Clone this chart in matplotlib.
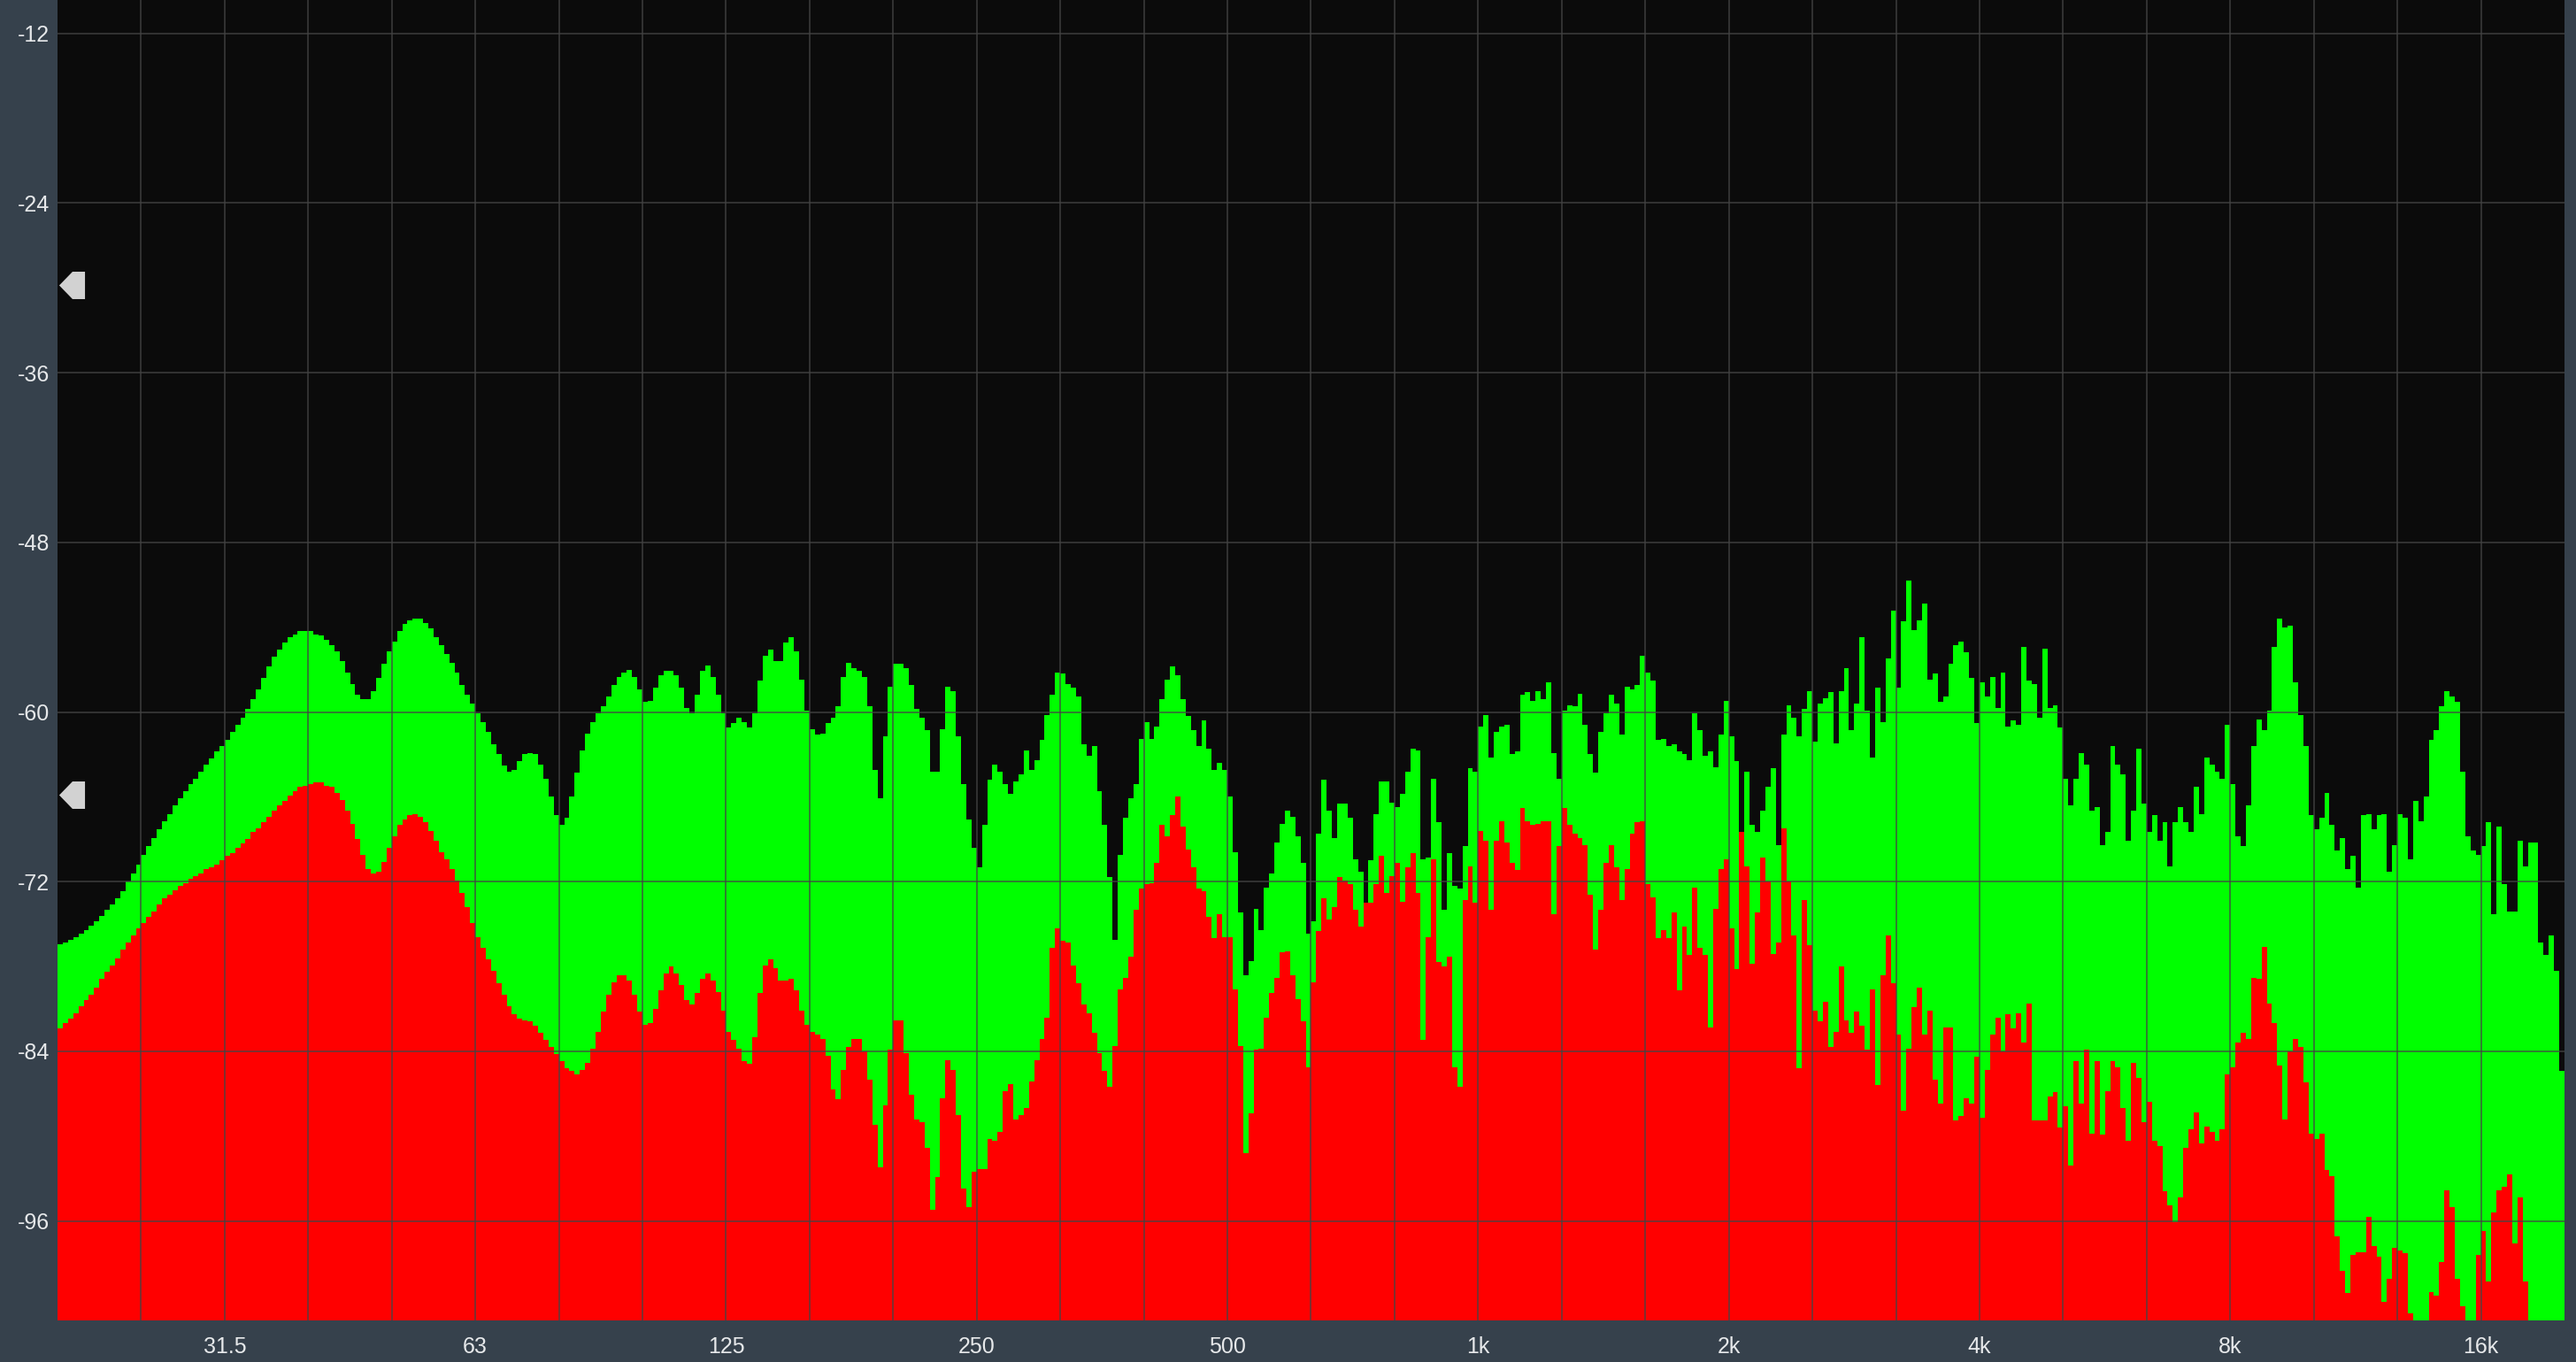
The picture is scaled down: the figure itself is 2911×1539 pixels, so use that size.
import matplotlib
matplotlib.use('Agg')
import matplotlib.pyplot as plt
import numpy as np
from matplotlib.ticker import NullFormatter

# Level of each bin in dB, one list per third of an octave
green_20 = [-76.4,-76.3,-76.1,-75.9,-75.7,-75.4,-75.1,-74.8,-74.4,-74.0,-73.6,-73.2,-72.7,-72.0,-71.4,-70.8]
green_25 = [-70.1,-69.5,-68.9,-68.3,-67.7,-67.2,-66.6,-66.1,-65.6,-65.1,-64.7,-64.2,-63.7,-63.3,-62.8,-62.4]
green_31 = [-62.0,-61.4,-60.9,-60.4,-59.8,-59.1,-58.4,-57.6,-56.8,-56.1,-55.6,-55.1,-54.7,-54.5,-54.3,-54.3]
green_40 = [-54.3,-54.5,-54.6,-54.9,-55.3,-55.7,-56.4,-57.2,-58.0,-58.8,-59.1,-59.1,-58.5,-57.6,-56.6,-55.7]
green_50 = [-55.0,-54.3,-53.8,-53.5,-53.4,-53.4,-53.7,-54.1,-54.7,-55.3,-55.9,-56.5,-57.2,-58.1,-58.8,-59.4]
green_63 = [-60.1,-60.7,-61.4,-62.3,-63.0,-63.8,-64.2,-64.1,-63.5,-63.0,-62.9,-63.0,-63.7,-64.7,-66.0,-67.3]
green_80 = [-68.0,-67.5,-66.0,-64.3,-62.7,-61.5,-60.7,-60.1,-59.6,-58.9,-58.1,-57.5,-57.2,-57.0,-57.5,-58.4]
green_100 = [-59.3,-59.2,-58.3,-57.4,-57.1,-57.1,-57.4,-58.3,-59.7,-60.1,-58.8,-57.1,-56.7,-57.5,-58.8,-60.1]
green_125 = [-61.1,-60.8,-60.4,-60.7,-61.1,-60.1,-57.8,-56.0,-55.6,-56.4,-56.4,-55.1,-54.7,-55.7,-57.7,-59.9]
green_160 = [-61.2,-61.6,-61.5,-60.8,-60.4,-59.6,-57.5,-56.5,-56.9,-57.1,-57.5,-59.6,-64.1,-66.1,-61.7,-58.2]
green_200 = [-56.6,-56.6,-56.9,-58.1,-59.8,-60.4,-61.3,-64.2,-64.2,-61.2,-58.2,-58.5,-61.7,-65.1,-67.6,-69.6]
green_250 = [-71.0,-68.0,-64.8,-63.7,-64.2,-65.1,-65.8,-64.9,-64.4,-62.7,-64.1,-63.4,-62.0,-60.2,-58.8,-57.2]
green_315 = [-57.3,-58.0,-58.3,-58.9,-62.3,-63.1,-62.4,-65.6,-68.0,-71.7,-76.1,-70.1,-67.5,-66.1,-65.1,-61.9]
green_400 = [-60.7,-61.9,-61.0,-59.1,-57.7,-56.8,-57.4,-59.1,-60.3,-61.3,-62.4,-60.6,-62.6,-64.1,-63.6,-64.1]
green_500 = [-66.0,-69.9,-74.2,-78.6,-77.6,-73.9,-75.4,-72.4,-71.4,-69.2,-67.9,-67.0,-67.4,-68.8,-70.7,-75.7]
green_630 = [-74.8,-68.6,-64.8,-67.0,-68.9,-66.5,-66.5,-67.5,-70.4,-71.3,-73.5,-70.5,-67.2,-64.9,-64.9,-66.4]
green_800 = [-66.7,-65.8,-64.2,-62.6,-62.7,-70.4,-70.3,-64.7,-67.8,-74.0,-70.0,-72.3,-72.5,-69.5,-64.0,-64.2]
green_1k = [-61.0,-60.2,-63.2,-61.4,-61.0,-60.9,-63.0,-62.8,-58.8,-58.6,-59.2,-58.5,-59.1,-57.9,-62.9,-64.7]
green_1k25 = [-59.9,-59.5,-59.6,-58.7,-60.9,-63.0,-64.3,-61.4,-60.1,-58.8,-59.4,-61.6,-58.2,-58.4,-58.1,-56.0]
green_1k6 = [-57.2,-57.8,-62.0,-61.9,-62.4,-62.3,-62.8,-63.0,-63.4,-60.1,-61.3,-63.1,-62.8,-63.9,-61.6,-59.2]
green_2k = [-61.7,-63.5,-68.5,-64.2,-68.0,-68.5,-67.0,-65.3,-64.0,-69.4,-61.6,-59.5,-60.4,-61.7,-59.8,-58.5]
green_2k5 = [-62.1,-59.4,-59.0,-58.6,-62.2,-58.5,-56.9,-61.3,-59.4,-54.7,-59.9,-63.2,-58.3,-60.7,-56.2,-52.8]
green_3k15 = [-58.3,-53.6,-50.7,-54.2,-53.5,-52.3,-57.7,-57.3,-59.3,-58.9,-56.6,-55.3,-55.0,-55.8,-57.6,-60.8]
green_4k = [-57.9,-58.9,-57.5,-59.7,-57.2,-61.0,-60.6,-60.9,-55.4,-57.8,-58.0,-60.4,-55.5,-59.7,-59.5,-61.1]
green_5k = [-64.7,-66.6,-64.7,-62.9,-63.7,-67.0,-66.7,-69.4,-68.5,-62.4,-63.7,-64.4,-69.1,-67.0,-62.6,-66.5]
green_6k3 = [-68.5,-67.3,-69.1,-67.8,-70.9,-67.8,-66.7,-67.8,-68.5,-65.3,-67.2,-63.2,-63.7,-64.2,-64.7,-60.9]
green_8k = [-65.1,-68.8,-69.5,-66.6,-62.4,-60.5,-61.3,-59.9,-55.4,-53.4,-54.0,-53.9,-57.9,-60.2,-62.4,-67.3]
green_10k = [-68.3,-67.5,-65.7,-68.0,-69.8,-68.9,-71.1,-70.2,-72.4,-67.3,-67.2,-68.3,-67.3,-67.2,-71.3,-69.4]
green_12k5 = [-67.2,-67.5,-70.4,-66.3,-67.7,-66.0,-62.0,-61.3,-59.6,-58.5,-58.9,-59.3,-64.2,-68.8,-69.8,-70.1]
green_16k = [-69.5,-67.8,-74.3,-68.1,-72.2,-74.1,-74.1,-69.1,-70.9,-69.2,-69.2,-76.3,-77.2,-75.8,-78.3,-85.4]

red_20 = [-82.4,-82.0,-81.7,-81.3,-80.8,-80.4,-80.0,-79.5,-78.9,-78.4,-77.9,-77.4,-76.8,-76.3,-75.8,-75.3]
red_25 = [-74.9,-74.5,-74.1,-73.6,-73.2,-72.9,-72.6,-72.3,-72.1,-71.8,-71.6,-71.4,-71.1,-71.0,-70.8,-70.5]
red_31 = [-70.2,-70.0,-69.6,-69.3,-69.0,-68.5,-68.2,-67.8,-67.4,-67.0,-66.6,-66.3,-65.9,-65.6,-65.3,-65.2]
red_40 = [-65.1,-65.0,-65.0,-65.2,-65.3,-65.7,-66.2,-67.0,-67.9,-69.0,-70.1,-71.1,-71.4,-71.3,-70.6,-69.6]
red_50 = [-68.8,-68.0,-67.6,-67.3,-67.2,-67.4,-67.8,-68.4,-69.1,-69.9,-70.4,-71.1,-71.9,-72.8,-73.8,-74.9]
red_63 = [-75.9,-76.7,-77.5,-78.3,-79.2,-80.0,-80.8,-81.4,-81.7,-81.8,-81.9,-82.2,-82.7,-83.2,-83.7,-84.2]
red_80 = [-84.7,-85.2,-85.4,-85.6,-85.3,-84.8,-83.8,-82.6,-81.2,-80.0,-79.1,-78.6,-78.6,-79.0,-80.0,-81.2]
red_100 = [-82.1,-82.0,-81.0,-79.7,-78.5,-78.0,-78.5,-79.3,-80.4,-80.7,-79.9,-78.9,-78.5,-79.0,-79.8,-81.1]
red_125 = [-82.6,-83.2,-83.8,-84.7,-84.9,-83.0,-79.9,-77.9,-77.5,-78.1,-79.0,-79.0,-78.9,-79.7,-81.1,-82.1]
red_160 = [-82.6,-82.8,-83.1,-84.3,-86.7,-87.4,-85.3,-83.7,-83.1,-83.1,-84.0,-86.0,-89.2,-92.2,-87.8,-83.9]
red_200 = [-81.8,-81.8,-84.1,-87.1,-88.8,-89.0,-90.8,-95.2,-92.9,-87.3,-84.6,-85.3,-88.5,-93.7,-95.0,-92.5]
red_250 = [-92.3,-92.3,-90.2,-90.3,-89.7,-86.8,-86.3,-88.8,-88.5,-88.0,-86.1,-84.6,-83.1,-81.6,-76.7,-75.3]
red_315 = [-76.2,-76.3,-77.9,-79.2,-80.7,-81.3,-82.7,-84.1,-85.4,-86.5,-83.6,-79.6,-78.8,-77.3,-74.0,-72.5]
red_400 = [-72.2,-72.1,-70.7,-68.0,-68.8,-67.3,-66.0,-68.1,-69.7,-71.0,-72.5,-72.7,-74.5,-76.0,-74.3,-75.9]
red_500 = [-75.9,-79.6,-83.6,-91.2,-88.4,-83.9,-83.8,-81.6,-79.9,-78.8,-77.0,-76.9,-78.6,-80.3,-81.9,-85.1]
red_630 = [-79.1,-75.5,-73.2,-74.7,-73.8,-71.7,-71.9,-72.2,-74.0,-75.2,-73.5,-73.5,-72.2,-70.2,-72.8,-71.6]
red_800 = [-70.7,-73.4,-71.0,-70.0,-72.8,-83.2,-75.9,-70.4,-77.7,-78.0,-77.3,-85.1,-86.5,-73.3,-70.9,-73.5]
red_1k = [-68.4,-69.1,-74.0,-69.1,-67.7,-69.2,-70.7,-71.2,-66.8,-67.7,-68.0,-67.9,-67.7,-67.7,-74.3,-69.5]
red_1k25 = [-66.8,-68.0,-68.6,-68.9,-69.4,-72.9,-76.8,-74.0,-70.7,-69.4,-71.0,-73.3,-71.1,-68.6,-67.8,-67.7]
red_1k6 = [-72.2,-73.1,-76.0,-75.4,-76.0,-74.2,-79.7,-75.2,-77.2,-72.4,-76.7,-77.2,-82.3,-73.9,-71.1,-70.4]
red_2k = [-75.3,-78.2,-68.5,-70.9,-77.8,-74.2,-70.3,-72.0,-77.1,-76.3,-68.2,-72.0,-75.8,-85.2,-73.3,-76.5]
red_2k5 = [-81.1,-81.9,-80.5,-83.7,-82.6,-78.0,-81.8,-82.7,-81.2,-82.2,-83.9,-79.6,-86.4,-78.6,-75.8,-79.2]
red_3k15 = [-82.8,-88.2,-83.8,-80.9,-79.5,-82.8,-81.1,-86.0,-87.7,-82.3,-82.3,-88.9,-88.6,-87.3,-87.7,-84.4]
red_4k = [-88.7,-85.3,-82.8,-81.6,-84.0,-81.4,-82.4,-81.3,-83.4,-80.6,-88.9,-88.9,-88.9,-87.2,-86.9,-89.4]
red_5k = [-87.9,-92.1,-84.7,-87.7,-83.9,-89.8,-84.7,-89.9,-86.8,-84.7,-85.1,-88.0,-90.3,-84.8,-85.9,-89.0]
red_6k3 = [-87.6,-90.3,-90.7,-93.9,-94.9,-96.1,-94.3,-90.8,-89.5,-88.3,-90.5,-89.3,-89.7,-90.3,-89.5,-85.6]
red_8k = [-85.1,-83.4,-82.7,-83.1,-78.8,-78.9,-76.6,-80.6,-82.0,-85.0,-88.8,-84.0,-83.1,-83.7,-86.2,-89.8]
red_10k = [-90.2,-89.8,-92.4,-92.8,-97.1,-99.5,-101.1,-98.4,-98.2,-98.2,-95.7,-97.8,-98.5,-101.7,-100.1,-97.9]
red_12k5 = [-98.1,-98.3,-102.5,-104,-104,-104,-101.0,-101.3,-98.9,-93.8,-95.0,-100.1,-102.0,-104,-104,-98.4]
red_16k = [-96.7,-100.3,-95.4,-93.8,-93.6,-92.7,-97.6,-94.3,-100.3,-104,-104,-104,-104,-104,-104,-104]

green_bands = [green_20, green_25, green_31, green_40, green_50, green_63, green_80, green_100, green_125, green_160,
               green_200, green_250, green_315, green_400, green_500, green_630, green_800, green_1k, green_1k25, green_1k6,
               green_2k, green_2k5, green_3k15, green_4k, green_5k, green_6k3, green_8k, green_10k, green_12k5, green_16k]
red_bands = [red_20, red_25, red_31, red_40, red_50, red_63, red_80, red_100, red_125, red_160,
             red_200, red_250, red_315, red_400, red_500, red_630, red_800, red_1k, red_1k25, red_1k6,
             red_2k, red_2k5, red_3k15, red_4k, red_5k, red_6k3, red_8k, red_10k, red_12k5, red_16k]

x_labels = ['31.5', '63', '125', '250', '500', '1k', '2k', '4k', '8k', '16k']
y_ticks = [-12, -24, -36, -48, -60, -72, -84, -96]
handle_levels = [-29.8, -65.85]

# Grid lines sit on thirds of an octave from 20 Hz to 20 kHz
third_edges = 20 * 10 ** (np.arange(31) / 10)


def band_edges(bands):
    edges = [third_edges[0]]
    for i, band in enumerate(bands):
        edges.extend(np.geomspace(third_edges[i], third_edges[i + 1], len(band) + 1)[1:])
    return np.array(edges)


fig = plt.figure(figsize=(29.11, 15.39), dpi=100, facecolor='#36414c')
ax = fig.add_axes([65 / 2911, (1539 - 1491.5) / 1539, (2898 - 65) / 2911, 1491.5 / 1539])
ax.set_facecolor('#0b0b0b')
ax.set_xscale('log')
ax.set_xlim(third_edges[0], third_edges[-1])
ax.set_ylim(-103.0, -9.64)

ax.stairs(np.concatenate(green_bands), band_edges(green_bands), baseline=-110, fill=True, color='#00ff00', antialiased=False, zorder=1)
ax.stairs(np.concatenate(red_bands), band_edges(red_bands), baseline=-110, fill=True, color='#ff0000', antialiased=False, zorder=1.1)

ax.set_xticks(third_edges[2:30:3], labels=x_labels)
ax.set_xticks(third_edges[1:30], minor=True)
ax.xaxis.set_minor_formatter(NullFormatter())
ax.set_yticks(y_ticks)
ax.set_yticklabels([str(v) for v in y_ticks])
ax.grid(True, which='both', axis='both', color='#444444', linewidth=1.44, alpha=0.68, zorder=3)
ax.set_axisbelow(False)

ax.tick_params(axis='both', which='both', length=0)
ax.tick_params(axis='x', pad=13)
ax.tick_params(axis='y', pad=6.5)
for label in ax.get_xticklabels() + ax.get_yticklabels():
    label.set_family('Liberation Sans')
    label.set_fontsize(18)
    label.set_color('#e6e8ea')
for spine in ax.spines.values():
    spine.set_visible(False)

# Threshold handles on the left edge
handle = [(-0.94, 0), (0.03, 1), (0.94, 1), (0.94, -1), (0.03, -1), (-0.94, 0)]
for level in handle_levels:
    ax.plot([0.00575], [level], marker=handle, markersize=22.3, markeredgewidth=0, color='#d2d2d2', linestyle='none',
            transform=ax.get_yaxis_transform(), clip_on=False, zorder=5)

fig.savefig('out.png', dpi=100, facecolor=fig.get_facecolor())
